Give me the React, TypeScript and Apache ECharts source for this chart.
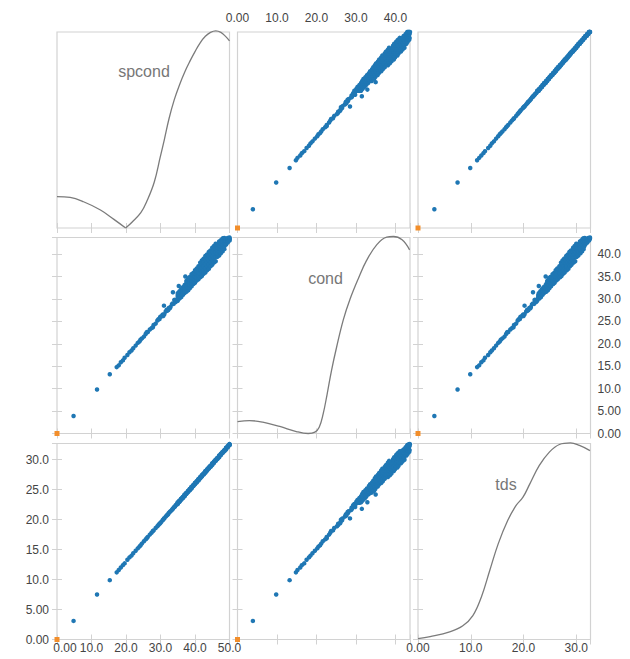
import React, { useEffect, useRef } from "react";
import * as echarts from "echarts";

// ---------- scatter data (spcond, cond, tds) ----------
const spcondMid = [4.8, 11.6, 15.3, 17.3, 17.9, 18.5, 19.1, 19.6, 20.4, 21.0, 21.6, 22.1, 22.8, 23.4, 23.9, 24.6, 25.2, 25.7, 26.3, 26.9, 27.4, 28.0, 28.6, 29.1, 29.7, 30.2, 30.6, 31.1, 31.5, 32.0, 32.4, 32.9, 33.3, 33.8, 34.2, 34.6, 31.0, 33.6, 35.3, 37.2,
  24.2, 26.0, 27.8, 29.4, 30.8, 31.8, 32.7, 33.5, 34.4, 29.9, 32.2, 34.0];
const condMid = [3.9, 9.8, 13.2, 14.8, 15.2, 15.9, 16.3, 16.9, 17.5, 18.1, 18.5, 19.0, 19.6, 20.2, 20.5, 21.2, 21.6, 22.2, 22.6, 23.2, 23.5, 24.2, 24.5, 25.2, 25.5, 26.1, 26.5, 26.6, 27.2, 27.4, 28.0, 28.2, 28.8, 28.9, 29.6, 29.7, 28.5, 31.5, 32.9, 35.0,
  20.9, 22.6, 23.7, 25.5, 26.2, 27.6, 27.9, 29.0, 29.3, 26.0, 27.5, 29.8];
const tdsMid = [3.1, 7.5, 9.9, 11.2, 11.6, 12.0, 12.4, 12.7, 13.3, 13.7, 14.0, 14.4, 14.8, 15.2, 15.5, 16.0, 16.4, 16.7, 17.1, 17.5, 17.8, 18.2, 18.6, 18.9, 19.3, 19.6, 19.9, 20.2, 20.5, 20.8, 21.1, 21.4, 21.6, 22.0, 22.2, 22.5, 20.2, 21.8, 22.9, 24.2,
  15.7, 16.9, 18.1, 19.1, 20.0, 20.7, 21.3, 21.8, 22.4, 19.4, 20.9, 22.1];

const spcondDense = [35.0, 35.5, 36.0, 36.5, 37.0, 37.5, 38.0, 38.5, 39.0, 39.5, 40.0, 40.5, 41.0, 41.5, 42.0, 42.5, 43.0, 43.5, 44.0, 44.5, 45.0, 45.5, 46.0, 46.5, 47.0, 47.5, 48.0, 48.5, 49.0, 49.5, 50.0];
const condDense = [
  [29.6, 30.1, 30.5, 30.9, 31.3], [30.1, 30.5, 30.9, 31.3, 31.7], [30.4, 30.9, 31.3, 31.8, 32.2],
  [30.9, 31.3, 31.8, 32.2, 32.6], [31.3, 31.7, 32.2, 32.6, 33.1], [31.6, 32.3, 32.9, 33.5, 34.0],
  [31.9, 32.6, 33.2, 33.9, 34.6], [32.4, 33.1, 33.7, 34.3, 34.9], [32.8, 33.5, 34.1, 34.8, 35.5],
  [33.3, 34.0, 34.6, 35.2, 35.8], [33.6, 34.3, 35.0, 35.7, 36.4], [34.1, 34.8, 35.5, 36.2, 36.8],
  [34.4, 35.1, 35.9, 36.6, 37.3], [34.8, 35.7, 36.5, 37.3, 38.1], [35.1, 36.0, 36.9, 37.7, 38.6],
  [35.6, 36.5, 37.3, 38.2, 39.0], [35.9, 36.8, 37.8, 38.7, 39.6], [36.4, 37.3, 38.2, 39.1, 39.9],
  [36.7, 37.7, 38.6, 39.6, 40.5], [37.3, 38.2, 39.1, 40.0, 40.8], [37.6, 38.6, 39.5, 40.5, 41.4],
  [38.1, 39.1, 40.0, 40.9, 41.8], [38.4, 39.4, 40.4, 41.3, 42.3], [39.4, 40.1, 40.8, 41.5, 42.2],
  [39.7, 40.5, 41.3, 42.0, 42.8], [40.2, 41.0, 41.7, 42.4, 43.1], [40.6, 41.3, 42.1, 42.8, 43.5],
  [41.1, 41.7, 42.4, 43.0, 43.6], [42.1, 42.4, 42.8, 43.1, 43.4], [42.6, 42.9, 43.1, 43.4, 43.6],
  [43.0, 43.2, 43.4, 43.5, 43.7],
];
const tdsDense = [
  [22.6, 22.7, 22.8, 22.8, 22.9], [23.0, 23.0, 23.1, 23.1, 23.2], [23.3, 23.4, 23.4, 23.5, 23.5],
  [23.6, 23.7, 23.7, 23.8, 23.8], [23.9, 24.0, 24.1, 24.1, 24.2], [24.3, 24.3, 24.4, 24.4, 24.5],
  [24.6, 24.7, 24.7, 24.8, 24.8], [24.9, 25.0, 25.0, 25.1, 25.1], [25.2, 25.3, 25.4, 25.4, 25.5],
  [25.6, 25.6, 25.7, 25.7, 25.8], [25.9, 26.0, 26.0, 26.1, 26.1], [26.2, 26.3, 26.3, 26.4, 26.4],
  [26.5, 26.6, 26.7, 26.7, 26.8], [26.9, 26.9, 27.0, 27.0, 27.1], [27.2, 27.3, 27.3, 27.4, 27.4],
  [27.5, 27.6, 27.6, 27.7, 27.7], [27.8, 27.9, 28.0, 28.0, 28.1], [28.2, 28.2, 28.3, 28.3, 28.4],
  [28.5, 28.6, 28.6, 28.7, 28.7], [28.8, 28.9, 28.9, 29.0, 29.0], [29.1, 29.2, 29.3, 29.3, 29.4],
  [29.5, 29.5, 29.6, 29.6, 29.7], [29.8, 29.9, 29.9, 30.0, 30.0], [30.1, 30.2, 30.2, 30.3, 30.3],
  [30.4, 30.5, 30.6, 30.6, 30.7], [30.8, 30.8, 30.9, 30.9, 31.0], [31.1, 31.2, 31.2, 31.3, 31.3],
  [31.4, 31.5, 31.5, 31.6, 31.6], [31.7, 31.8, 31.9, 31.9, 32.0], [32.1, 32.1, 32.2, 32.2, 32.3],
  [32.4, 32.5, 32.5, 32.6, 32.6],
];

// the single orange point (spcond, cond, tds)
const zeroPoint = [0, 0, 0];

// ---------- density curves on the diagonal ----------
const spcondDensLeftX = [0, 3.8, 7.7, 12.6, 16.5, 19.9];
const spcondDensLeftY = [0.16, 0.156, 0.134, 0.092, 0.044, 0];
const spcondDensRightX = [19.9, 21.8, 24.3, 26.2, 28.2, 29.9, 31.1, 32.5, 34.0, 35.5, 37.0, 38.5, 40.0, 41.5, 43.0, 44.5, 46.0, 47.5, 49.0, 50.0];
const spcondDensRightY = [0, 0.031, 0.078, 0.143, 0.235, 0.36, 0.45, 0.56, 0.655, 0.73, 0.795, 0.85, 0.9, 0.945, 0.978, 0.998, 1.006, 0.998, 0.975, 0.955];
const condDensX = [0, 3.05, 6.4, 10.7, 14.9, 17.9, 19.6, 20.7, 21.7, 22.7, 23.8, 25.1, 26.8, 28.5, 30.6, 32.7, 35.3, 37.8, 39.5, 41.7, 43.6];
const condDensY = [0.061, 0.066, 0.058, 0.036, 0.01, 0.0, 0.007, 0.032, 0.1, 0.2, 0.32, 0.44, 0.58, 0.685, 0.79, 0.883, 0.964, 1.002, 1.005, 0.988, 0.937];
const tdsDensX = [0, 2.3, 6.0, 8.5, 10.4, 12.0, 13.6, 15.2, 17.0, 18.6, 19.9, 21.2, 23.0, 24.9, 26.8, 28.9, 30.6, 32.6];
const tdsDensY = [0.005, 0.015, 0.039, 0.07, 0.122, 0.216, 0.352, 0.488, 0.607, 0.684, 0.726, 0.794, 0.888, 0.956, 0.995, 1.003, 0.99, 0.964];

// ---------- axes ----------
const varNames = ["spcond", "cond", "tds"];
const axisMax = [50, 43.7, 32.7];
const colTickStep = [10, 10, 10];
const rowTickStep = [0, 5, 5];

const FRAME = "#d2d2d2";
const LABEL = "#444";
const FONT = '"Liberation Sans", Arial, sans-serif';

function fmtTick(v: number, step: number): string {
  if (!step) return "";
  const k = v / step;
  if (Math.abs(k - Math.round(k)) > 1e-6) return "";
  if (v === 0) return "0.00";
  return v < 10 ? v.toFixed(2) : v.toFixed(1);
}

const spcond = [...spcondMid, ...spcondDense.flatMap((s, i) => condDense[i].map(() => s))];
const cond = [...condMid, ...condDense.flat()];
const tds = [...tdsMid, ...tdsDense.flat()];
const vars = [spcond, cond, tds];

const pairs = (a: number[], b: number[]) => a.map((v, i) => [v, b[i]]);

function buildOption() {
  const gridLeft = [57, 237.5, 418];
  const gridTop = [32, 237.5, 443.5];
  const grids: any[] = [];
  const xAxes: any[] = [];
  const yAxes: any[] = [];
  const series: any[] = [];

  const axisBase = (extra: any) => ({
    type: "value",
    min: 0,
    axisLine: { show: false },
    splitLine: { show: false },
    ...extra,
  });

  for (let r = 0; r < 3; r++) {
    for (let c = 0; c < 3; c++) {
      const g = grids.length;
      grids.push({
        left: gridLeft[c],
        top: gridTop[r],
        width: 172.5,
        height: 196,
        show: true,
        borderColor: FRAME,
        borderWidth: 1.2,
        backgroundColor: "#fff",
        containLabel: false,
        outerBoundsMode: "none",
      });
      const cStep = colTickStep[c];
      const rStep = rowTickStep[r];
      const tick = (show: boolean) => ({
        show,
        inside: true,
        length: 5,
        lineStyle: { color: FRAME, width: 1 },
      });
      const label = (show: boolean, margin: number, step: number, shiftMin = false) => ({
        show,
        margin,
        color: LABEL,
        fontSize: 12,
        fontFamily: FONT,
        formatter: (v: number) => {
          const t = fmtTick(v, step);
          if (shiftMin && v === 0) return "{m|" + t + "}";
          return t;
        },
        rich: shiftMin
          ? { m: { padding: [0, 0, 0, 16], color: LABEL, fontSize: 12, fontFamily: FONT } }
          : undefined,
      });

      const xb = xAxes.length;
      xAxes.push(axisBase({
        gridIndex: g, position: "bottom", max: axisMax[c], interval: cStep,
        axisTick: tick(true),
        axisLabel: label(r === 2 && (c === 0 || c === 2), 2, cStep, c === 0),
      }));
      xAxes.push(axisBase({
        gridIndex: g, position: "top", max: axisMax[c], interval: cStep,
        axisTick: tick(true),
        axisLabel: label(r === 0 && c === 1, 8, cStep),
      }));
      const yl = yAxes.length;
      yAxes.push(axisBase({
        gridIndex: g, position: "left", max: axisMax[r], interval: rStep || axisMax[r],
        axisTick: tick(rStep > 0),
        axisLabel: label(r === 2 && c === 0, 8, rStep),
      }));
      yAxes.push(axisBase({
        gridIndex: g, position: "right", max: axisMax[r], interval: rStep || axisMax[r],
        axisTick: tick(rStep > 0),
        axisLabel: label(r === 1 && c === 2, 7, rStep),
      }));

      if (r === c) {
        const yd = yAxes.length;
        yAxes.push({ type: "value", gridIndex: g, min: 0, max: 1, show: false });
        const lineBase = {
          type: "line",
          xAxisIndex: xb,
          yAxisIndex: yd,
          symbol: "none",
          smooth: 0.4,
          clip: false,
          silent: true,
          lineStyle: { color: "#7b7b7b", width: 1.3 },
        };
        if (r === 0) {
          series.push({ ...lineBase, data: pairs(spcondDensLeftX, spcondDensLeftY) });
          series.push({ ...lineBase, data: pairs(spcondDensRightX, spcondDensRightY) });
        } else if (r === 1) {
          series.push({ ...lineBase, data: pairs(condDensX, condDensY) });
        } else {
          series.push({ ...lineBase, data: pairs(tdsDensX, tdsDensY) });
        }
      } else {
        series.push({
          type: "scatter",
          xAxisIndex: xb,
          yAxisIndex: yl,
          symbol: "circle",
          symbolSize: 4.5,
          clip: false,
          silent: true,
          itemStyle: { color: "#1f77b4", opacity: 1 },
          data: pairs(vars[c], vars[r]),
        });
        series.push({
          type: "scatter",
          xAxisIndex: xb,
          yAxisIndex: yl,
          symbol: "rect",
          symbolSize: 5,
          clip: false,
          silent: true,
          z: 3,
          itemStyle: { color: "#f28e2b", opacity: 1 },
          data: [[zeroPoint[c], zeroPoint[r]]],
        });
      }
    }
  }

  const titlePos = [
    [144, 71],
    [325.5, 278.7],
    [506, 484.5],
  ];
  const graphic = varNames.map((name, i) => ({
    type: "text",
    x: titlePos[i][0],
    y: titlePos[i][1],
    silent: true,
    z: 10,
    style: {
      text: name,
      fill: "#777",
      fontSize: 16,
      fontFamily: FONT,
      font: '16px "Liberation Sans", Arial, sans-serif',
      align: "center",
      verticalAlign: "middle",
      textAlign: "center",
      textVerticalAlign: "middle",
    },
  }));

  return {
    animation: false,
    backgroundColor: "#ffffff",
    grid: grids,
    xAxis: xAxes,
    yAxis: yAxes,
    series,
    graphic,
  };
}

export default function App() {
  const ref = useRef<HTMLDivElement>(null);
  useEffect(() => {
    if (!ref.current) return;
    const chart = echarts.init(ref.current, undefined, { renderer: "svg" });
    chart.setOption(buildOption() as any);
    return () => chart.dispose();
  }, []);
  return (
    <div
      ref={ref}
      style={{ position: "absolute", left: 0, top: 0, width: 630, height: 659, background: "#fff" }}
    />
  );
}
